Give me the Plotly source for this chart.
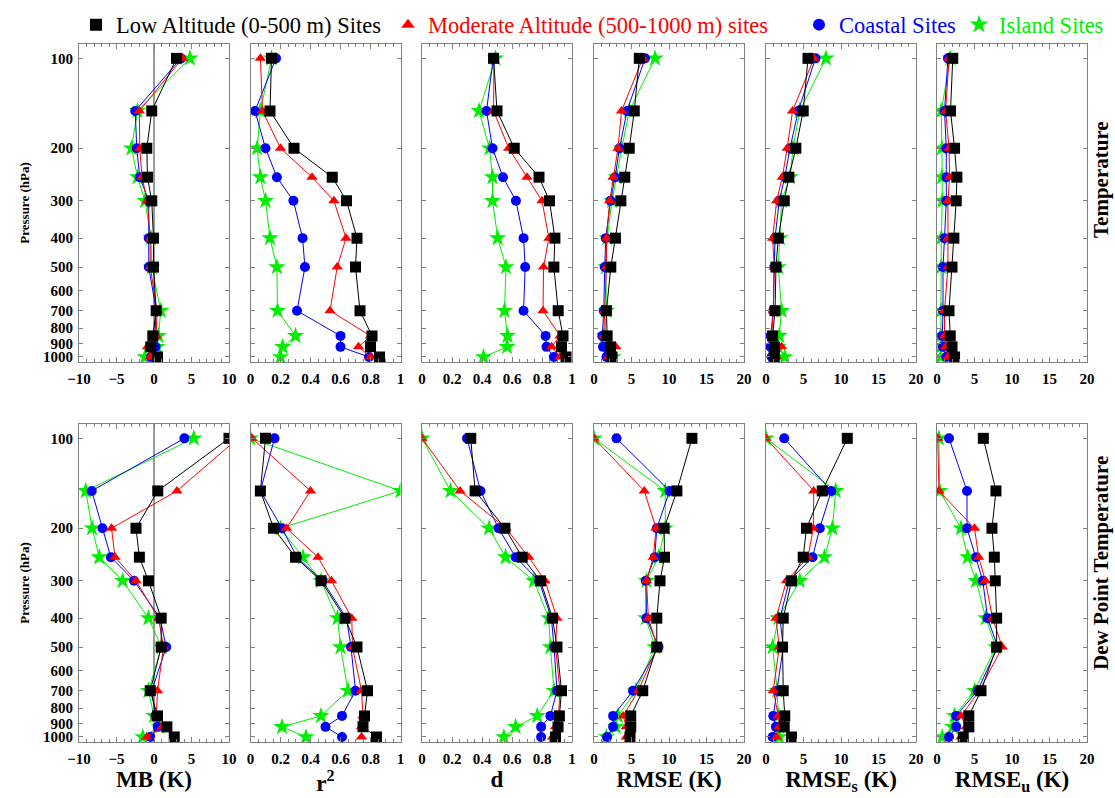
import plotly.graph_objects as go

levels = [100, 150, 200, 250, 300, 400, 500, 700, 850, 925, 1000]
pressure_ticks = [100, 200, 300, 400, 500, 600, 700, 800, 900, 1000]

groups = ["low", "mod", "coast", "island"]
group_names = ["Low Altitude (0-500 m) Sites", "Moderate Altitude (500-1000 m) sites",
               "Coastal Sites", "Island Sites"]

# ---- Temperature (top row) ----
t_mb = dict(
    low=[3.0, -0.3, -0.96, -0.87, -0.3, -0.07, -0.07, 0.29, -0.16, -0.43, 0.47],
    mod=[3.8, -1.95, -1.9, -1.6, -0.9, -0.5, -0.5, 0.4, 0.3, -0.87, -0.5],
    coast=[3.6, -2.5, -2.3, -1.9, -0.7, -0.7, -0.7, 0.3, 0.1, 0.2, -0.4],
    island=[4.8, -2.2, -3.0, -2.2, -1.2, -0.4, -0.3, 0.9, 0.6, 0.4, -1.2],
)
t_r2 = dict(
    low=[0.14, 0.13, 0.29, 0.545, 0.64, 0.71, 0.70, 0.73, 0.81, 0.80, 0.86],
    mod=[0.066, 0.08, 0.20, 0.41, 0.556, 0.637, 0.578, 0.53, 0.80, 0.72, 0.80],
    coast=[0.17, 0.03, 0.10, 0.176, 0.286, 0.347, 0.363, 0.31, 0.60, 0.60, 0.79],
    island=[0.14, 0.066, 0.044, 0.066, 0.10, 0.13, 0.176, 0.18, 0.30, 0.215, 0.20],
)
t_d = dict(
    low=[0.477, 0.50, 0.615, 0.78, 0.85, 0.886, 0.879, 0.908, 0.94, 0.93, 0.96],
    mod=[0.48, 0.477, 0.578, 0.70, 0.80, 0.846, 0.81, 0.807, 0.92, 0.864, 0.92],
    coast=[0.475, 0.43, 0.47, 0.54, 0.626, 0.677, 0.688, 0.677, 0.824, 0.83, 0.879],
    island=[0.49, 0.38, 0.45, 0.47, 0.47, 0.505, 0.56, 0.55, 0.57, 0.567, 0.41],
)
t_rmse = dict(
    low=[6.04, 5.37, 4.7, 4.1, 3.58, 2.86, 2.24, 1.66, 1.75, 2.2, 2.4],
    mod=[6.5, 3.67, 3.2, 2.55, 2.1, 1.66, 1.66, 1.43, 1.3, 2.9, 1.9],
    coast=[6.8, 4.4, 3.4, 2.8, 2.2, 1.57, 1.43, 1.3, 1.1, 1.2, 1.66],
    island=[8.14, 4.7, 3.7, 3.0, 2.4, 1.75, 1.57, 1.66, 1.43, 1.9, 2.55],
)
t_rmse_s = dict(
    low=[5.6, 4.96, 3.98, 3.05, 2.43, 1.64, 1.33, 1.2, 0.88, 1.1, 1.1],
    mod=[6.4, 3.54, 2.83, 2.17, 1.42, 0.88, 1.1, 0.97, 0.75, 2.08, 1.4],
    coast=[6.6, 4.3, 3.2, 2.5, 1.77, 1.2, 1.1, 0.97, 0.62, 0.62, 0.75],
    island=[8.0, 4.5, 3.6, 3.2, 2.08, 1.86, 1.64, 2.08, 1.77, 1.6, 2.5],
)
t_rmse_u = dict(
    low=[2.1, 1.8, 2.34, 2.65, 2.56, 2.25, 2.0, 1.6, 1.77, 2.0, 2.34],
    mod=[1.6, 1.15, 1.6, 1.68, 1.46, 1.46, 1.46, 1.0, 1.0, 1.15, 1.46],
    coast=[1.46, 1.0, 1.24, 1.24, 1.24, 1.0, 0.8, 0.8, 0.7, 0.8, 1.24],
    island=[1.77, 0.57, 0.66, 0.66, 0.7, 0.57, 0.57, 0.57, 0.5, 0.5, 0.5],
)

# ---- Dew point temperature (bottom row) ----
td_mb = dict(
    low=[10.0, 0.5, -2.4, -1.95, -0.74, 0.96, 0.96, -0.5, 0.47, 1.72, 2.7],
    mod=[11.2, 3.06, -5.66, -5.2, -2.4, 0.6, 1.27, 0.47, 0.3, 1.1, -0.96],
    coast=[4.05, -8.3, -6.87, -5.75, -2.66, 0.8, 1.63, -0.3, 0.2, 0.5, -0.5],
    island=[5.3, -9.1, -8.25, -7.3, -4.18, -0.74, 1.0, -0.74, 0.0, 0.7, -1.5],
)
td_r2 = dict(
    low=[0.10, 0.066, 0.154, 0.30, 0.47, 0.63, 0.71, 0.78, 0.76, 0.75, 0.84],
    mod=[0.01, 0.40, 0.24, 0.45, 0.54, 0.675, 0.68, 0.74, 0.75, 0.74, 0.74],
    coast=[0.16, 0.066, 0.21, 0.31, 0.48, 0.64, 0.67, 0.70, 0.61, 0.50, 0.61],
    island=[0.0, 1.0, 0.2, 0.35, 0.47, 0.58, 0.60, 0.65, 0.47, 0.21, 0.37],
)
td_d = dict(
    low=[0.325, 0.354, 0.553, 0.668, 0.79, 0.87, 0.90, 0.93, 0.916, 0.907, 0.89],
    mod=[0.0, 0.254, 0.56, 0.712, 0.82, 0.90, 0.89, 0.92, 0.91, 0.89, 0.87],
    coast=[0.30, 0.39, 0.51, 0.624, 0.78, 0.863, 0.88, 0.90, 0.856, 0.794, 0.794],
    island=[0.0, 0.19, 0.447, 0.557, 0.746, 0.845, 0.856, 0.88, 0.768, 0.624, 0.546],
)
td_rmse = dict(
    low=[13.06, 11.05, 9.35, 9.4, 8.8, 8.37, 8.37, 6.5, 4.9, 4.9, 4.8],
    mod=[0.0, 6.7, 8.28, 7.9, 7.0, 7.25, 8.45, 5.9, 3.9, 4.3, 4.3],
    coast=[3.0, 10.07, 8.37, 8.1, 6.9, 7.0, 8.6, 5.2, 2.55, 2.55, 1.74],
    island=[0.0, 9.5, 9.5, 8.6, 7.0, 6.9, 8.14, 5.6, 3.2, 2.9, 1.66],
)
td_rmse_s = dict(
    low=[10.84, 7.5, 5.4, 4.96, 3.4, 2.3, 2.2, 2.3, 2.5, 2.43, 3.4],
    mod=[0.0, 6.37, 6.3, 5.6, 2.74, 1.33, 1.77, 0.97, 1.64, 1.77, 1.4],
    coast=[2.43, 8.7, 7.17, 6.2, 3.1, 1.86, 2.3, 1.5, 0.97, 1.33, 0.88],
    island=[0.0, 9.3, 8.85, 7.8, 4.5, 1.64, 0.88, 1.5, 1.64, 1.77, 1.77],
)
td_rmse_u = dict(
    low=[6.18, 7.86, 7.33, 7.64, 7.77, 7.95, 7.95, 5.87, 4.24, 4.24, 3.5],
    mod=[0.1, 0.26, 5.0, 5.56, 6.45, 7.4, 8.7, 5.65, 3.2, 3.9, 3.2],
    coast=[1.6, 4.0, 4.0, 5.2, 6.1, 6.75, 8.1, 5.4, 2.56, 2.56, 1.6],
    island=[0.26, 0.35, 3.2, 4.1, 5.2, 6.5, 7.86, 5.0, 2.34, 2.1, 0.7],
)

top_panels = [t_mb, t_r2, t_d, t_rmse, t_rmse_s, t_rmse_u]
bottom_panels = [td_mb, td_r2, td_d, td_rmse, td_rmse_s, td_rmse_u]
x_titles = ["MB (K)", "r<sup>2</sup>", "d", "RMSE (K)", "RMSE<sub>s</sub> (K)", "RMSE<sub>u</sub> (K)"]
x_ranges = [[-10, 10], [0, 1], [0, 1], [0, 20], [0, 20], [0, 20]]
x_dticks = [5, 0.2, 0.2, 5, 5, 5]
x_minor = [1, 0.05, 0.05, 1, 1, 1]

# ---- styles ----
colors = dict(low="#000000", mod="#ff0000", coast="#0000ff", island="#00ee00")
symbols = dict(low="square", mod="triangle-up", coast="circle", island="star")
sizes = dict(low=11, mod=10, coast=10, island=13)
draw_order = ["island", "coast", "mod", "low"]

W, H = 1115, 798
FONT = "Liberation Serif, Times New Roman, serif"
panel_left = [79, 250.5, 422, 594, 766, 937]
panel_w = 150
row_top = [44, 424]
row_h = 318

fig = go.Figure()

for r, panels in enumerate([top_panels, bottom_panels]):
    for c, data in enumerate(panels):
        k = r * 6 + c + 1
        xa = "x" if k == 1 else f"x{k}"
        ya = "y" if k == 1 else f"y{k}"
        for g in draw_order:
            fig.add_trace(go.Scatter(
                x=data[g], y=levels, xaxis=xa, yaxis=ya, mode="lines+markers",
                line=dict(color=colors[g], width=1),
                marker=dict(symbol=symbols[g], size=sizes[g], color=colors[g],
                            line=dict(width=0)),
                showlegend=False, hoverinfo="x+y", name=group_names[groups.index(g)],
            ))
        x0 = panel_left[c] / W
        x1 = (panel_left[c] + panel_w) / W
        y1 = 1 - row_top[r] / H
        y0 = 1 - (row_top[r] + row_h) / H
        xkey = "xaxis" if k == 1 else f"xaxis{k}"
        ykey = "yaxis" if k == 1 else f"yaxis{k}"
        xaxis = dict(
            domain=[x0, x1], anchor=ya, range=x_ranges[c], dtick=x_dticks[c], tick0=0,
            automargin=False,
            showgrid=False, showline=True, linecolor="#808080", linewidth=1, mirror="allticks",
            ticks="inside", ticklen=5, tickcolor="#808080",
            minor=dict(dtick=x_minor[c], ticks="inside", ticklen=3, tickcolor="#808080", showgrid=False),
            tickfont=dict(family=FONT, size=15, color="black", weight="bold"),
            ticklabelstandoff=3,
            zeroline=(c == 0), zerolinecolor="#9a9a9a", zerolinewidth=2,
        )
        if r == 1:
            xaxis["title"] = dict(text=x_titles[c], standoff=4,
                                  font=dict(family=FONT, size=23, color="black", weight="bold"))
        yaxis = dict(
            domain=[y0, y1], anchor=xa, type="log", range=[3.0168, 1.952],
            automargin=False,
            tickvals=pressure_ticks, ticktext=[str(p) for p in pressure_ticks],
            showticklabels=(c == 0), showgrid=False, zeroline=False,
            showline=True, linecolor="#808080", linewidth=1, mirror="allticks",
            ticks="inside", ticklen=4, tickcolor="#808080",
            tickfont=dict(family=FONT, size=15, color="black", weight="bold"),
            ticklabelstandoff=2,
        )
        if c == 0:
            yaxis["title"] = dict(text="Pressure (hPa)", standoff=10,
                                  font=dict(family=FONT, size=13, color="black", weight="bold"))
        fig.layout[xkey] = xaxis
        fig.layout[ykey] = yaxis

# legend-only entries, each in its own legend so they sit where the reference puts them
legend_x = [76, 388, 799, 959]
legend_keys = ["legend", "legend2", "legend3", "legend4"]
for i, g in enumerate(groups):
    fig.add_trace(go.Scatter(
        x=[None], y=[None], mode="markers", name=group_names[i],
        marker=dict(symbol=symbols[g], size=14 if g == "island" else 12, color=colors[g]),
        showlegend=True, legend=legend_keys[i], xaxis="x", yaxis="y",
    ))
for i, key in enumerate(legend_keys):
    fig.layout[key] = dict(
        x=legend_x[i] / W, xanchor="left", y=1 - 25 / H, yanchor="middle",
        orientation="h", bgcolor="rgba(0,0,0,0)", borderwidth=0,
        font=dict(family=FONT, size=22.5, color=colors[groups[i]]),
        itemwidth=30, tracegroupgap=0,
    )

# row labels on the right
fig.add_annotation(text="Temperature", x=1101 / W, y=1 - 180 / H, xref="paper", yref="paper",
                   textangle=-90, showarrow=False, xanchor="center", yanchor="middle",
                   font=dict(family=FONT, size=21, color="black", weight="bold"))
fig.add_annotation(text="Dew Point Temperature", x=1101 / W, y=1 - 563 / H, xref="paper", yref="paper",
                   textangle=-90, showarrow=False, xanchor="center", yanchor="middle",
                   font=dict(family=FONT, size=21, color="black", weight="bold"))

fig.update_layout(
    width=W, height=H, margin=dict(l=0, r=0, t=0, b=0),
    paper_bgcolor="white", plot_bgcolor="white",
    font=dict(family=FONT, color="black"),
)

# remove the browser's default page margin so the 1115x798 figure fills the window exactly
fig.write_html("out.html", config={"displayModeBar": False},
               post_script="document.body.style.margin='0';document.body.style.overflow='hidden';")
